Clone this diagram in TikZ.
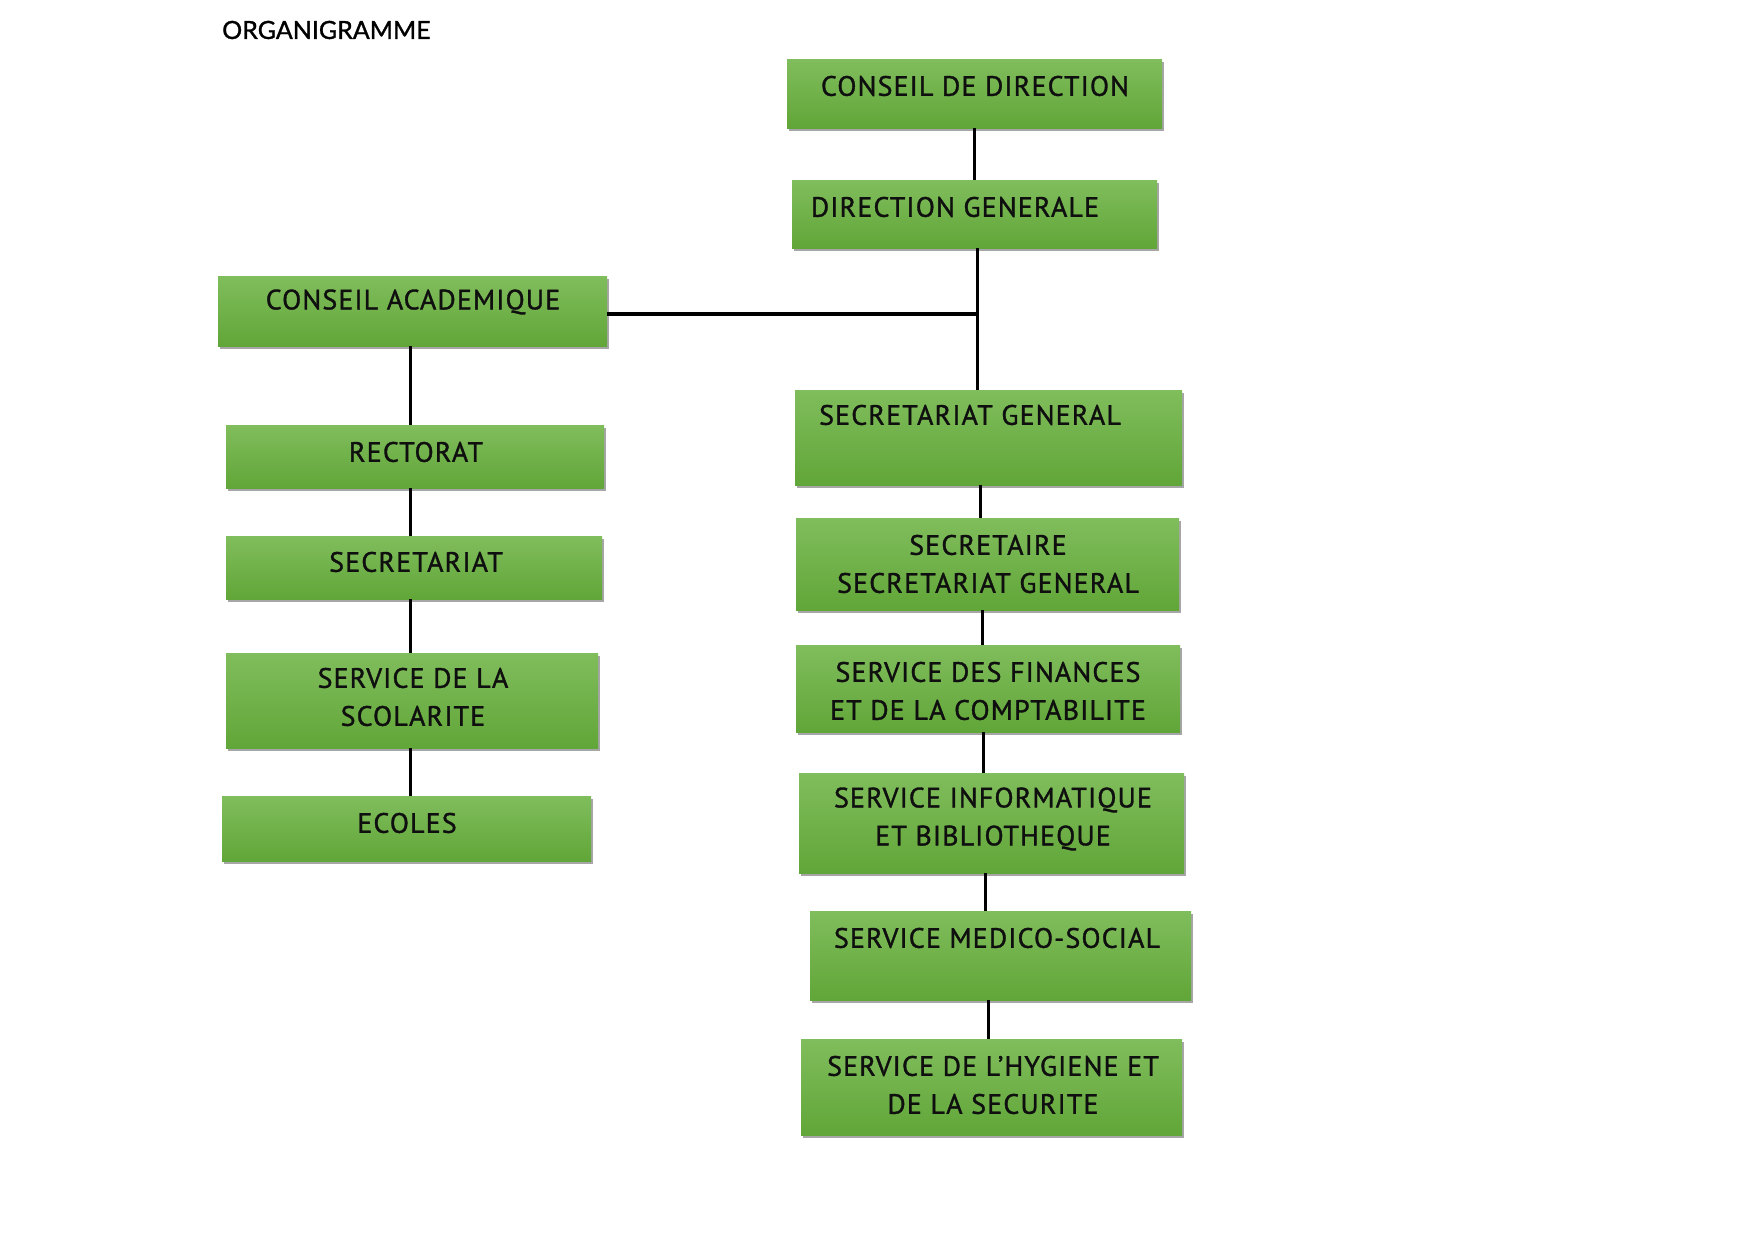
\documentclass[tikz,border=0pt]{standalone}
\usepackage{fontspec}
\setmainfont{PT Sans}[LetterSpace=4,FakeBold=1.2]
\newfontfamily\titlefont{Lato}[FakeBold=1.2]
\usetikzlibrary{shadows,calc}
\definecolor{gtop}{RGB}{128,189,92}
\definecolor{gbot}{RGB}{97,166,56}
\definecolor{ink}{RGB}{15,15,15}
\tikzset{
  box/.style={rectangle, draw=none, top color=gtop, bottom color=gbot, inner sep=0pt,
    drop shadow={shadow xshift=1.5pt, shadow yshift=-3pt, opacity=0.35, fill=black}},
  lbl/.style={font=\fontsize{28}{38}\selectfont, text=ink, align=center, inner sep=0pt},
  conn/.style={draw=black, line width=3.4pt}
}
\newcommand\bx[5]{\node[box, anchor=north west, minimum width={(#4-#2)*1pt}, minimum height={(#5-#3)*1pt}] (#1) at (#2,#3) {};}
\begin{document}
\begin{tikzpicture}[x=1pt,y=-1pt]
\useasboundingbox[fill=white] (0,0) rectangle (1755,1241);
\node[font=\titlefont\fontsize{25}{25}\selectfont, text=black, anchor=west, inner sep=0pt] (title) at (222,30) {ORGANIGRAMME};
% boxes
\bx{cd}{787}{59}{1162}{128}
\bx{dg}{792}{180}{1157}{248}
\bx{ca}{218}{276}{607}{346}
\bx{rec}{226}{425}{604}{488}
\bx{sec}{226}{536}{602}{599}
\bx{scol}{226}{653}{598}{748}
\bx{eco}{222}{796}{591}{861}
\bx{sg}{795}{390}{1182}{485}
\bx{ssg}{796}{518}{1179}{610}
\bx{fin}{796}{645}{1180}{732}
\bx{info}{799}{773}{1184}{873}
\bx{med}{810}{911}{1191}{1000}
\bx{hyg}{801}{1039}{1182}{1135}
% labels
\node[lbl] (cdT) at (975,86) {CONSEIL DE DIRECTION};
\node[lbl] (dgT) at (955,207) {DIRECTION GENERALE};
\node[lbl] (caT) at (413,302) {CONSEIL ACADEMIQUE};
\node[lbl] (recT) at (416,452) {RECTORAT};
\node[lbl] (secT) at (416,562) {SECRETARIAT};
\node[lbl] (scolT) at (413,697) {SERVICE DE LA\\SCOLARITE};
\node[lbl] (ecoT) at (407,823) {ECOLES};
\node[lbl] (sgT) at (970,415) {SECRETARIAT GENERAL};
\node[lbl] (ssgT) at (988,564) {SECRETAIRE\\SECRETARIAT GENERAL};
\node[lbl] (finT) at (988,691) {SERVICE DES FINANCES\\ET DE LA COMPTABILITE};
\node[lbl] (infoT) at (993,819) {SERVICE INFORMATIQUE\\ET BIBLIOTHEQUE};
\node[lbl] (medT) at (997,938) {SERVICE MEDICO-SOCIAL};
\node[lbl] (hygT) at (993,1085) {SERVICE DE L'HYGIENE ET\\DE LA SECURITE};
% connectors
\draw[conn] ([xshift=-0.5pt]cd.south) -- ([xshift=-0.5pt]cd.south |- dg.north);
\draw[conn] ([xshift=2.5pt]dg.south) coordinate (dgs) -- (dgs |- sg.north);
\coordinate (jn) at (dgs |- 0,314);
\draw[conn] (ca.east |- jn) -- ([xshift=-1.7pt]jn);
\draw[conn] ([xshift=-2.5pt]ca.south) -- ([xshift=-2.5pt]ca.south |- rec.north);
\draw[conn] ([xshift=-5pt]rec.south) -- ([xshift=-5pt]rec.south |- sec.north);
\draw[conn] ([xshift=-4pt]sec.south) -- ([xshift=-4pt]sec.south |- scol.north);
\draw[conn] ([xshift=-2pt]scol.south) -- ([xshift=-2pt]scol.south |- eco.north);
\draw[conn] ([xshift=-8pt]sg.south) -- ([xshift=-8pt]sg.south |- ssg.north);
\draw[conn] ([xshift=-5.5pt]ssg.south) -- ([xshift=-5.5pt]ssg.south |- fin.north);
\draw[conn] ([xshift=-5pt]fin.south) -- ([xshift=-5pt]fin.south |- info.north);
\draw[conn] ([xshift=-6.5pt]info.south) -- ([xshift=-6.5pt]info.south |- med.north);
\draw[conn] ([xshift=-12.5pt]med.south) -- ([xshift=-12.5pt]med.south |- hyg.north);
\end{tikzpicture}
\end{document}
